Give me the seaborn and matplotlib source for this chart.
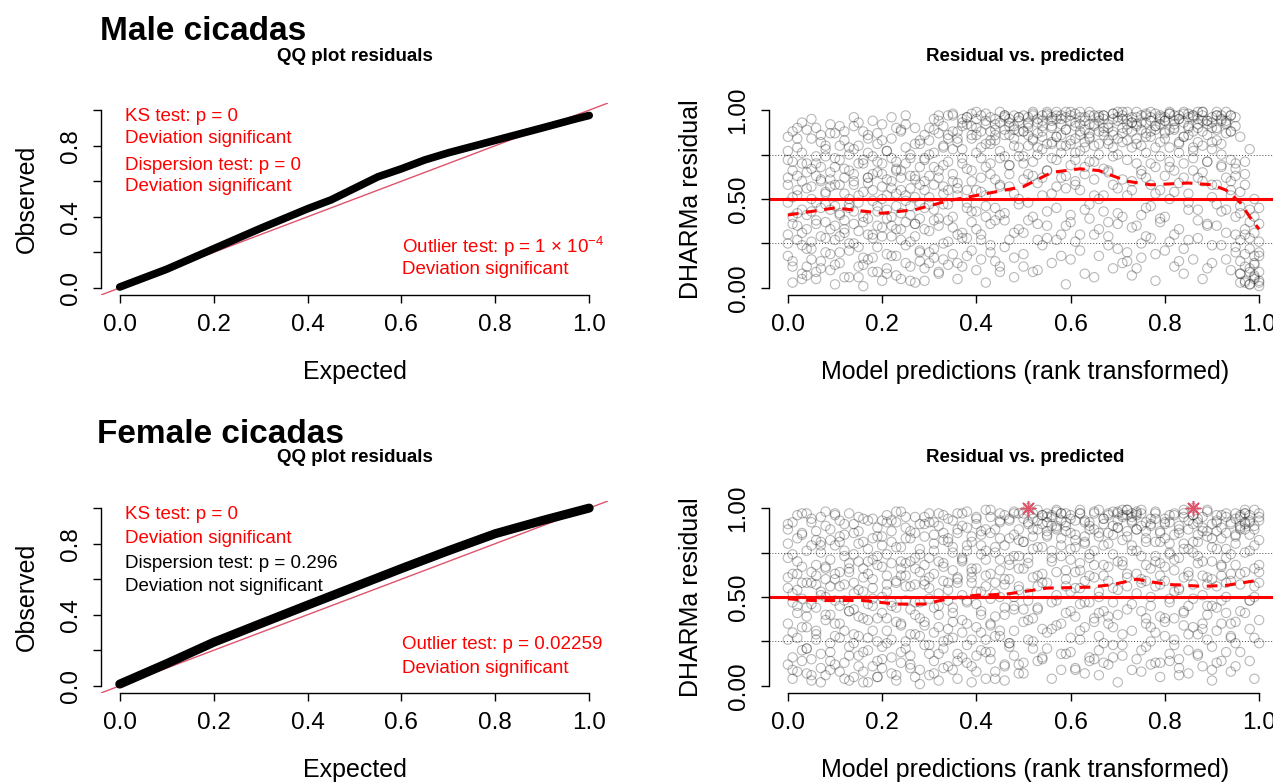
import matplotlib
matplotlib.use("Agg")
import matplotlib.pyplot as plt
import numpy as np
import seaborn as sns

# QQ plot residuals: expected vs observed quantiles
qq_expected_male = [0.0, 0.05, 0.1, 0.2, 0.3, 0.4, 0.45, 0.5, 0.55, 0.6, 0.65, 0.7, 0.8, 0.9, 0.97, 1.0]
qq_observed_male = [0.005, 0.055, 0.105, 0.22, 0.335, 0.445, 0.495, 0.56, 0.625, 0.67, 0.72, 0.76, 0.83, 0.90, 0.95, 0.97]
qq_expected_female = [0.0, 0.1, 0.2, 0.3, 0.4, 0.5, 0.6, 0.7, 0.8, 0.9, 1.0]
qq_observed_female = [0.01, 0.125, 0.245, 0.35, 0.454, 0.557, 0.66, 0.76, 0.856, 0.93, 1.0]

# rank transformed model predictions (percent), same grid for every residual list
rank_x = [0, 0, 0, 1, 1, 1, 2, 2, 2, 3, 3, 3, 4, 4, 4, 5, 5, 5, 6, 6, 6, 7, 7, 7, 8, 8, 8, 9, 9, 9,
          10, 10, 10, 11, 11, 11, 12, 12, 12, 13, 13, 13, 14, 14, 14, 15, 15, 15, 16, 16, 16, 17, 17, 17, 18, 18, 18, 19, 19, 19,
          20, 20, 20, 21, 21, 21, 22, 22, 22, 23, 23, 23, 24, 24, 24, 25, 25, 25, 26, 26, 26, 27, 27, 27, 28, 28, 28, 29, 29, 29,
          30, 30, 30, 31, 31, 31, 32, 32, 32, 33, 33, 33, 34, 34, 34, 35, 35, 35, 36, 36, 36, 37, 37, 37, 38, 38, 38, 39, 39, 39,
          40, 40, 40, 41, 41, 41, 42, 42, 42, 43, 43, 43, 44, 44, 44, 45, 45, 45, 46, 46, 46, 47, 47, 47, 48, 48, 48, 49, 49, 49,
          50, 50, 50, 51, 51, 51, 52, 52, 52, 53, 53, 53, 54, 54, 54, 55, 55, 55, 56, 56, 56, 57, 57, 57, 58, 58, 58, 59, 59, 59,
          60, 60, 60, 61, 61, 61, 62, 62, 62, 63, 63, 63, 64, 64, 64, 65, 65, 65, 66, 66, 66, 67, 67, 67, 68, 68, 68, 69, 69, 69,
          70, 70, 70, 71, 71, 71, 72, 72, 72, 73, 73, 73, 74, 74, 74, 75, 75, 75, 76, 76, 76, 77, 77, 77, 78, 78, 78, 79, 79, 79,
          80, 80, 80, 81, 81, 81, 82, 82, 82, 83, 83, 83, 84, 84, 84, 85, 85, 85, 86, 86, 86, 87, 87, 87, 88, 88, 88, 89, 89, 89,
          90, 90, 90, 91, 91, 91, 92, 92, 92, 93, 93, 93, 94, 94, 94, 95, 95, 95, 96, 96, 96, 97, 97, 97, 98, 98, 98, 99, 99, 99,
          100, 100, 100]

# DHARMa scaled residuals (percent), three simulation batches per sex
resid_male_a = [62, 18, 85, 40, 3, 71, 27, 55, 90, 8, 44, 76, 65, 33, 12, 95, 50, 22, 70, 5, 38, 15, 60, 82, 47, 28, 74, 92, 10, 57,
                35, 68, 2, 80, 42, 20, 53, 88, 31, 6, 66, 45, 25, 78, 58, 12, 48, 93, 72, 37, 1, 59, 16, 84, 30, 64, 9, 87, 43, 23,
                50, 4, 70, 19, 77, 39, 96, 56, 29, 7, 46, 67, 62, 33, 89, 14, 52, 97, 41, 75, 26, 3, 61, 36, 83, 21, 48, 55, 11, 73,
                32, 90, 63, 68, 17, 44, 94, 39, 8, 25, 79, 57, 86, 47, 13, 98, 60, 34, 5, 82, 52, 91, 28, 70, 45, 96, 18, 84, 37, 60,
                99, 55, 10, 73, 30, 88, 92, 46, 3, 20, 81, 64, 95, 38, 86, 58, 12, 77, 89, 42, 97, 27, 69, 91, 84, 6, 53, 96, 33, 74,
                61, 88, 19, 93, 48, 80, 9, 71, 99, 87, 36, 59, 94, 24, 78, 66, 98, 43, 82, 14, 91, 97, 57, 85, 30, 76, 95, 89, 63, 2,
                99, 41, 81, 72, 93, 26, 86, 55, 96, 8, 79, 68, 92, 47, 84, 61, 97, 30, 88, 18, 75, 95, 52, 90, 37, 83, 66, 98, 11, 79,
                56, 94, 22, 87, 40, 99, 15, 72, 92, 93, 60, 7, 81, 35, 96, 64, 89, 17, 97, 45, 76, 28, 85, 58, 91, 4, 68, 74, 96, 39,
                88, 21, 94, 50, 79, 98, 12, 90, 66, 95, 33, 82, 70, 99, 8, 86, 53, 27, 97, 16, 77, 62, 92, 44, 99, 80, 5, 36, 94, 71,
                90, 58, 14, 83, 97, 47, 24, 75, 95, 92, 62, 31, 10, 88, 55, 67, 20, 96, 3, 42, 85, 30, 12, 64, 2, 37, 78, 18, 5, 50,
                1, 26, 9]
resid_male_b = [48, 72, 30, 66, 15, 88, 52, 79, 35, 24, 60, 93, 70, 41, 7, 57, 84, 26, 36, 63, 90, 45, 11, 68, 78, 54, 20, 33, 87, 61,
                73, 46, 13, 58, 29, 91, 67, 38, 83, 21, 75, 50, 43, 96, 64, 80, 32, 6, 54, 70, 17, 39, 86, 62, 74, 28, 49, 65, 9, 81,
                29, 57, 92, 77, 44, 11, 60, 35, 84, 18, 71, 53, 88, 42, 66, 49, 24, 79, 73, 56, 4, 36, 90, 63, 58, 15, 81, 45, 72, 33,
                83, 51, 20, 38, 76, 95, 62, 9, 87, 91, 47, 69, 26, 84, 55, 78, 97, 40, 88, 59, 14, 95, 31, 73, 67, 92, 48, 86, 21, 98,
                43, 90, 76, 97, 62, 27, 81, 94, 52, 36, 88, 70, 92, 15, 83, 99, 57, 41, 74, 96, 23, 86, 64, 93, 31, 89, 97, 94, 47, 79,
                88, 70, 12, 96, 38, 90, 63, 98, 83, 93, 27, 75, 85, 97, 52, 99, 66, 35, 90, 81, 96, 45, 95, 72, 97, 86, 18, 80, 99, 56,
                94, 69, 37, 98, 84, 60, 77, 92, 21, 96, 44, 89, 85, 99, 71, 52, 91, 80, 97, 33, 94, 88, 67, 97, 24, 90, 81, 95, 58, 86,
                99, 75, 42, 90, 97, 14, 83, 52, 95, 96, 88, 34, 70, 99, 91, 93, 25, 80, 98, 62, 87, 46, 94, 99, 89, 79, 19, 97, 55, 92,
                84, 96, 40, 99, 68, 89, 92, 30, 97, 76, 95, 59, 98, 85, 22, 90, 48, 96, 97, 73, 88, 38, 99, 82, 94, 65, 97, 86, 92, 11,
                96, 78, 51, 99, 89, 35, 81, 97, 68, 93, 44, 94, 60, 88, 97, 40, 23, 70, 15, 8, 46, 33, 4, 58, 11, 22, 2, 6, 40, 14,
                3, 18, 45]
resid_male_c = [25, 58, 77, 51, 36, 12, 84, 63, 42, 31, 70, 5, 56, 89, 22, 43, 67, 16, 9, 48, 74, 61, 29, 86, 37, 80, 53, 19, 65, 44,
                58, 27, 87, 41, 72, 14, 62, 33, 6, 79, 47, 25, 36, 60, 91, 23, 52, 70, 88, 40, 13, 62, 30, 76, 17, 55, 94, 46, 71, 35,
                34, 64, 83, 52, 8, 61, 40, 73, 18, 90, 33, 66, 27, 55, 5, 70, 37, 92, 12, 46, 63, 81, 29, 51, 39, 68, 20, 60, 4, 86,
                47, 75, 14, 89, 22, 58, 35, 66, 97, 53, 16, 80, 97, 71, 38, 64, 88, 19, 30, 84, 56, 78, 12, 93, 55, 96, 28, 91, 66, 43,
                86, 33, 95, 54, 79, 16, 98, 40, 68, 83, 96, 24, 61, 89, 45, 93, 73, 9, 38, 86, 97, 69, 95, 57, 91, 17, 80, 50, 88, 96,
                97, 74, 31, 64, 92, 86, 40, 84, 97, 79, 95, 10, 91, 62, 88, 28, 81, 97, 94, 53, 73, 85, 99, 27, 62, 92, 80, 96, 35, 89,
                83, 97, 16, 91, 58, 76, 99, 30, 88, 64, 94, 82, 39, 87, 97, 92, 71, 6, 81, 96, 50, 97, 43, 86, 65, 92, 29, 88, 98, 74,
                36, 84, 96, 95, 61, 82, 99, 20, 89, 79, 93, 55, 92, 11, 84, 66, 97, 41, 85, 93, 29, 96, 70, 88, 53, 91, 98, 82, 37, 95,
                94, 63, 87, 71, 98, 26, 89, 54, 94, 97, 81, 15, 62, 93, 85, 91, 44, 98, 79, 96, 66, 95, 28, 90, 88, 99, 60, 71, 94, 35,
                93, 82, 24, 58, 97, 90, 94, 69, 43, 87, 99, 16, 97, 72, 52, 30, 91, 63, 8, 54, 27, 19, 3, 71, 44, 9, 28, 13, 31, 7,
                20, 4, 36]
resid_female_a = [55, 12, 88, 30, 74, 4, 96, 41, 63, 20, 85, 49, 7, 58, 33, 79, 15, 92, 44, 68, 26, 2, 53, 81, 37, 90, 60, 71, 19, 9,
                  48, 97, 28, 84, 35, 64, 13, 57, 76, 66, 3, 42, 91, 24, 52, 39, 80, 17, 61, 8, 94, 27, 70, 46, 83, 55, 11, 5, 38, 73,
                  50, 93, 22, 74, 31, 62, 16, 87, 45, 98, 58, 6, 34, 78, 66, 69, 21, 89, 43, 10, 56, 86, 47, 29, 1, 64, 77, 59, 95, 36,
                  23, 72, 49, 80, 14, 92, 52, 40, 3, 96, 67, 25, 32, 83, 58, 75, 9, 44, 18, 61, 88, 90, 37, 70, 47, 98, 13, 64, 26, 81,
                  8, 53, 95, 85, 42, 30, 56, 76, 19, 99, 35, 63, 28, 88, 4, 71, 50, 93, 12, 79, 40, 94, 60, 24, 45, 17, 73, 82, 97, 54,
                  36, 66, 7, 91, 100, 48, 21, 84, 61, 93, 43, 78, 58, 96, 15, 87, 30, 92, 4, 72, 95, 89, 51, 34, 97, 18, 83, 65, 90, 41,
                  27, 77, 94, 85, 55, 10, 46, 99, 69, 92, 33, 80, 14, 62, 88, 76, 97, 38, 53, 6, 84, 91, 68, 24, 39, 86, 59, 98, 47, 16,
                  70, 93, 2, 95, 29, 82, 99, 63, 43, 9, 97, 76, 88, 52, 96, 60, 20, 90, 35, 81, 68, 94, 45, 12, 73, 98, 30, 5, 57, 86,
                  83, 38, 92, 49, 74, 18, 96, 26, 65, 15, 88, 54, 80, 42, 99, 62, 7, 77, 91, 100, 33, 29, 69, 85, 51, 95, 11, 87, 40, 61,
                  22, 78, 3, 93, 56, 44, 68, 14, 89, 41, 97, 72, 8, 63, 28, 84, 36, 94, 57, 90, 19, 97, 75, 88, 32, 92, 48, 79, 4, 66,
                  95, 58, 24]
resid_female_b = [35, 80, 61, 9, 52, 92, 70, 27, 45, 86, 14, 58, 39, 97, 21, 64, 46, 3, 82, 31, 57, 18, 75, 95, 50, 6, 67, 88, 40, 24,
                  12, 63, 79, 56, 93, 8, 31, 48, 85, 97, 22, 69, 5, 74, 43, 87, 54, 28, 19, 66, 81, 93, 37, 2, 45, 71, 60, 25, 89, 14,
                  67, 10, 84, 38, 96, 53, 81, 26, 7, 59, 44, 92, 13, 70, 35, 95, 62, 48, 29, 83, 17, 72, 5, 57, 47, 91, 38, 84, 23, 68,
                  6, 55, 97, 63, 30, 76, 90, 45, 18, 21, 86, 69, 54, 11, 94, 41, 78, 27, 97, 60, 4, 16, 72, 51, 79, 35, 89, 58, 2, 66,
                  33, 91, 46, 74, 20, 87, 4, 62, 99, 86, 49, 15, 39, 78, 58, 92, 28, 65, 57, 96, 11, 24, 83, 71, 98, 43, 31, 66, 7, 88,
                  13, 81, 94, 52, 37, 72, 97, 88, 25, 44, 99, 62, 78, 16, 91, 95, 58, 84, 32, 96, 70, 98, 48, 90, 9, 93, 79, 87, 60, 97,
                  71, 19, 53, 93, 82, 39, 26, 65, 97, 84, 7, 59, 47, 92, 74, 15, 68, 88, 99, 41, 28, 62, 94, 13, 80, 35, 96, 55, 23, 85,
                  97, 89, 40, 68, 96, 17, 84, 99, 56, 95, 31, 92, 98, 76, 63, 42, 97, 8, 22, 59, 87, 91, 50, 33, 13, 70, 94, 62, 39, 81,
                  28, 91, 67, 75, 14, 96, 53, 85, 38, 90, 6, 72, 34, 61, 95, 88, 45, 20, 96, 81, 57, 17, 94, 73, 70, 32, 89, 45, 99, 26,
                  83, 60, 9, 31, 92, 77, 96, 48, 67, 58, 19, 86, 91, 74, 35, 24, 97, 80, 88, 63, 95, 92, 99, 41, 85, 96, 14, 50, 27, 90,
                  93, 64, 37]
resid_female_c = [72, 26, 91, 47, 63, 16, 8, 83, 54, 67, 33, 97, 21, 76, 44, 94, 58, 6, 29, 87, 62, 51, 10, 79, 98, 40, 66, 14, 56, 82,
                  60, 35, 96, 27, 81, 45, 73, 4, 91, 42, 64, 17, 86, 29, 58, 11, 70, 95, 53, 38, 2, 77, 20, 63, 31, 94, 49, 68, 5, 84,
                  15, 79, 41, 92, 57, 24, 47, 69, 93, 3, 36, 78, 62, 98, 19, 25, 83, 56, 87, 12, 70, 40, 66, 95, 74, 28, 9, 57, 91, 34,
                  92, 18, 61, 44, 85, 7, 70, 33, 97, 10, 59, 82, 81, 26, 48, 36, 93, 65, 58, 14, 86, 97, 71, 30, 23, 48, 76, 84, 61, 11,
                  66, 17, 94, 40, 79, 53, 88, 26, 71, 19, 95, 34, 75, 52, 8, 31, 83, 97, 60, 3, 44, 93, 68, 22, 50, 85, 97, 12, 73, 56,
                  97, 43, 81, 69, 92, 26, 38, 77, 94, 88, 14, 56, 96, 63, 32, 21, 85, 97, 90, 47, 76, 99, 64, 88, 73, 97, 35, 92, 56, 18,
                  42, 86, 96, 64, 9, 78, 97, 55, 31, 81, 93, 47, 16, 72, 90, 98, 36, 61, 50, 86, 20, 94, 79, 42, 67, 12, 97, 33, 90, 74,
                  89, 54, 98, 99, 23, 70, 61, 96, 87, 93, 79, 46, 97, 88, 15, 73, 99, 58, 38, 83, 92, 90, 66, 25, 56, 97, 81, 87, 13, 69,
                  59, 94, 36, 92, 47, 80, 23, 71, 97, 86, 55, 10, 97, 77, 41, 64, 93, 29, 96, 49, 75, 81, 18, 92, 35, 87, 62, 98, 57, 84,
                  45, 91, 70, 87, 13, 96, 62, 83, 35, 95, 50, 77, 27, 92, 59, 85, 68, 11, 96, 42, 89, 91, 97, 64, 93, 76, 48, 99, 88, 56,
                  82, 97, 68]

# median quantile regression (smoothed)
smooth_x_male = [0.0, 0.10, 0.20, 0.27, 0.34, 0.40, 0.50, 0.56, 0.62, 0.66, 0.72, 0.77, 0.85, 0.90, 0.93, 0.96, 0.98, 1.0]
smooth_y_male = [0.41, 0.45, 0.42, 0.44, 0.49, 0.52, 0.57, 0.65, 0.67, 0.66, 0.60, 0.58, 0.59, 0.58, 0.55, 0.48, 0.40, 0.33]
smooth_x_female = [0.0, 0.05, 0.16, 0.23, 0.29, 0.34, 0.40, 0.46, 0.50, 0.55, 0.64, 0.69, 0.74, 0.77, 0.81, 0.88, 0.93, 1.0]
smooth_y_female = [0.49, 0.48, 0.48, 0.46, 0.46, 0.49, 0.51, 0.515, 0.53, 0.55, 0.555, 0.57, 0.60, 0.585, 0.57, 0.56, 0.565, 0.595]

# outliers (female)
outlier_x_female = [0.51, 0.86]
outlier_y_female = [1.0, 1.0]

sns.set_style("white")
plt.rcParams["font.family"] = ["Liberation Sans", "DejaVu Sans"]
plt.rcParams["mathtext.fontset"] = "custom"
plt.rcParams["mathtext.rm"] = "Liberation Sans"
plt.rcParams["mathtext.default"] = "regular"
for k in ["text.color", "axes.labelcolor", "xtick.color", "ytick.color"]:
    plt.rcParams[k] = "black"

RED = "#FF0000"
PINK = "#DF536B"

fig = plt.figure(figsize=(12.73, 7.84), dpi=100)


def style_axes(ax, yticks, ylabels, xlabel, ylabel):
    ax.set_xlim(-0.04, 1.04)
    ax.set_ylim(-0.04, 1.04)
    ax.spines["top"].set_visible(False)
    ax.spines["right"].set_visible(False)
    for s in ["left", "bottom"]:
        ax.spines[s].set_bounds(0, 1)
        ax.spines[s].set_color("black")
        ax.spines[s].set_linewidth(1.0)
    ax.set_xticks([0, 0.2, 0.4, 0.6, 0.8, 1.0])
    ax.set_xticklabels(["0.0", "0.2", "0.4", "0.6", "0.8", "1.0"])
    ax.set_yticks(yticks)
    ax.set_yticklabels(ylabels, rotation=90, va="center")
    ax.tick_params(axis="both", direction="out", length=6, width=1, color="black",
                   labelsize=17.5, left=True, bottom=True)
    ax.tick_params(axis="x", pad=8)
    ax.tick_params(axis="y", pad=8)
    ax.set_xlabel(xlabel, fontsize=18)
    ax.set_ylabel(ylabel, fontsize=18)
    ax.xaxis.label.set_va("center")
    ax.yaxis.label.set_va("center")


def draw_qq(ax, x, y, lw, tests, title_y):
    ax.axline((0, 0), (1, 1), color=PINK, lw=1)
    sns.lineplot(x=x, y=y, ax=ax, color="black", lw=lw, sort=False, estimator=None,
                 solid_capstyle="round")
    style_axes(ax, [0, 0.2, 0.4, 0.6, 0.8, 1.0], ["0.0", "", "0.4", "", "0.8", ""],
               "Expected", "Observed")
    ax.xaxis.set_label_coords(0.5, -0.40)
    ax.yaxis.set_label_coords(-0.146, 0.5)
    ax.text(0.5, title_y, "QQ plot residuals", transform=ax.transAxes, ha="center",
            va="center", fontsize=13.5, fontweight="bold")
    for tx, ty, s, c in tests:
        ax.text(tx, ty, s, transform=ax.transAxes, ha="left", va="center", fontsize=13.5, color=c)


def draw_resid(ax, ys, sx, sy, title_y, ox=None, oy=None):
    for y in ys:
        sns.scatterplot(x=np.array(rank_x) / 100, y=np.array(y) / 100, ax=ax, marker="o", s=45,
                        facecolor="none", edgecolor="black", alpha=0.28, linewidth=0.8)
    ax.axhline(0.25, color="#444444", lw=0.7, ls=(0, (1, 2)))
    ax.axhline(0.75, color="#444444", lw=0.7, ls=(0, (1, 2)))
    ax.axhline(0.5, color=RED, lw=2.2)
    sns.lineplot(x=sx, y=sy, ax=ax, color=RED, lw=2.2, linestyle=(0, (3.5, 2.5)),
                 sort=False, estimator=None)
    if ox is not None:
        sns.scatterplot(x=ox, y=oy, ax=ax, marker=(8, 2, 0), s=110, color=PINK,
                        edgecolor=PINK, linewidth=1.1)
    style_axes(ax, [0, 0.25, 0.5, 0.75, 1.0], ["0.00", "", "0.50", "", "1.00"],
               "Model predictions (rank transformed)", "DHARMa residual")
    ax.xaxis.set_label_coords(0.503, -0.40)
    ax.yaxis.set_label_coords(-0.153, 0.5)
    ax.text(0.503, title_y, "Residual vs. predicted", transform=ax.transAxes, ha="center",
            va="center", fontsize=13.5, fontweight="bold")


ax_qq_m = fig.add_axes([0.0793, 0.6237, 0.3983, 0.2449])
ax_res_m = fig.add_axes([0.6041, 0.6237, 0.3998, 0.2449])
ax_qq_f = fig.add_axes([0.0793, 0.1161, 0.3983, 0.2449])
ax_res_f = fig.add_axes([0.6041, 0.1161, 0.3998, 0.2449])

draw_qq(ax_qq_m, qq_expected_male, qq_observed_male, 5.5, [
    (0.047, 0.932, "KS test: p = 0", RED),
    (0.047, 0.813, "Deviation significant", RED),
    (0.047, 0.677, "Dispersion test: p = 0", RED),
    (0.047, 0.563, "Deviation significant", RED),
    (0.594, 0.25, r"Outlier test: p = 1 × 10$^{-4}$", RED),
    (0.594, 0.135, "Deviation significant", RED),
], 1.24)
draw_qq(ax_qq_f, qq_expected_female, qq_observed_female, 6.5, [
    (0.047, 0.927, "KS test: p = 0", RED),
    (0.047, 0.807, "Deviation significant", RED),
    (0.047, 0.672, "Dispersion test: p = 0.296", "black"),
    (0.047, 0.557, "Deviation not significant", "black"),
    (0.594, 0.25, "Outlier test: p = 0.02259", RED),
    (0.594, 0.13, "Deviation significant", RED),
], 1.225)
draw_resid(ax_res_m, [resid_male_a, resid_male_b, resid_male_c], smooth_x_male, smooth_y_male, 1.24)
draw_resid(ax_res_f, [resid_female_a, resid_female_b, resid_female_c], smooth_x_female,
           smooth_y_female, 1.225, outlier_x_female, outlier_y_female)

fig.text(100 / 1273, 1 - 40 / 784, "Male cicadas", fontsize=24, fontweight="bold",
         ha="left", va="baseline")
fig.text(97 / 1273, 1 - 443 / 784, "Female cicadas", fontsize=24, fontweight="bold",
         ha="left", va="baseline")

fig.savefig("out.png", dpi=100)
